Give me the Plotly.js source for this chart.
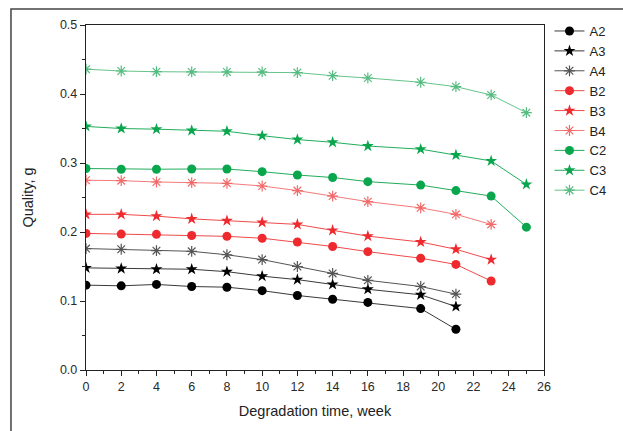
<!DOCTYPE html>
<html>
<head>
<meta charset="utf-8">
<script src="https://cdn.plot.ly/plotly-3.0.1.min.js"></script>
<style>html,body{margin:0;padding:0;background:#fff;}#chart{width:623px;height:431px;}</style>
</head>
<body>
<div id="chart"></div>
<script>
const weeksA = [0, 2, 4, 6, 8, 10, 12, 14, 16, 19, 21];
const weeksB = [0, 2, 4, 6, 8, 10, 12, 14, 16, 19, 21, 23];
const weeksC = [0, 2, 4, 6, 8, 10, 12, 14, 16, 19, 21, 23, 25];

const A2 = [0.123, 0.122, 0.124, 0.121, 0.120, 0.115, 0.108, 0.1025, 0.098, 0.089, 0.059];
const A3 = [0.148, 0.147, 0.146, 0.146, 0.1425, 0.136, 0.131, 0.124, 0.117, 0.109, 0.092];
const A4 = [0.176, 0.175, 0.173, 0.172, 0.167, 0.160, 0.150, 0.140, 0.130, 0.121, 0.110];
const B2 = [0.198, 0.197, 0.1966, 0.195, 0.1937, 0.191, 0.1855, 0.179, 0.1715, 0.162, 0.153, 0.129];
const B3 = [0.2256, 0.2256, 0.223, 0.219, 0.2164, 0.214, 0.211, 0.2024, 0.194, 0.1855, 0.175, 0.160];
const B4 = [0.275, 0.2744, 0.2725, 0.2715, 0.2705, 0.2667, 0.260, 0.252, 0.244, 0.235, 0.2256, 0.211];
const C2 = [0.292, 0.291, 0.291, 0.2913, 0.2913, 0.2874, 0.2826, 0.279, 0.273, 0.268, 0.260, 0.252, 0.207];
const C3 = [0.353, 0.350, 0.349, 0.347, 0.346, 0.3396, 0.334, 0.330, 0.3246, 0.320, 0.3116, 0.303, 0.269];
const C4 = [0.436, 0.4333, 0.4323, 0.432, 0.432, 0.432, 0.431, 0.4265, 0.4232, 0.417, 0.4106, 0.3986, 0.373];

const seriesNames = ["A2", "A3", "A4", "B2", "B3", "B4", "C2", "C3", "C4"];
const xTickVals = [0, 2, 4, 6, 8, 10, 12, 14, 16, 18, 20, 22, 24, 26];
const yTickVals = [0.0, 0.1, 0.2, 0.3, 0.4, 0.5];
const yTickText = ["0.0", "0.1", "0.2", "0.3", "0.4", "0.5"];

function mk(name, x, y, lineColor, mColor, symbol, size) {
  const open = symbol === 'asterisk-open';
  return {
    type: 'scatter', mode: 'lines+markers', name: name, x: x, y: y,
    line: {color: lineColor, width: 1},
    marker: {
      symbol: symbol, size: size, color: mColor,
      line: {color: mColor, width: open ? 1.2 : 0}
    }
  };
}

const data = [
  mk(seriesNames[0], weeksA, A2, '#3a3a3a', '#000000', 'circle', 9),
  mk(seriesNames[1], weeksA, A3, '#3a3a3a', '#000000', 'star', 9),
  mk(seriesNames[2], weeksA, A4, '#555555', '#555555', 'asterisk-open', 9),
  mk(seriesNames[3], weeksB, B2, '#f04a4a', '#ee2a2e', 'circle', 9),
  mk(seriesNames[4], weeksB, B3, '#f04a4a', '#ee2a2e', 'star', 9),
  mk(seriesNames[5], weeksB, B4, '#f47a7a', '#f26a6a', 'asterisk-open', 9),
  mk(seriesNames[6], weeksC, C2, '#22ad5a', '#0aa64e', 'circle', 9),
  mk(seriesNames[7], weeksC, C3, '#22ad5a', '#0aa64e', 'star', 9),
  mk(seriesNames[8], weeksC, C4, '#66c48a', '#55bb80', 'asterisk-open', 9)
];

const ff = '"Liberation Sans", Arial, sans-serif';
const axFont = {family: ff, size: 12.5, color: '#2a2a2a'};

const layout = {
  width: 623, height: 431,
  margin: {l: 86, r: 73, t: 25, b: 61},
  paper_bgcolor: '#ffffff', plot_bgcolor: '#ffffff',
  font: {family: ff, color: '#222'},
  showlegend: true,
  legend: {
    x: 1.012, y: 1.026, xanchor: 'left', yanchor: 'top',
    font: {family: ff, size: 13, color: '#222'},
    bgcolor: 'rgba(0,0,0,0)', tracegroupgap: 0, itemwidth: 30
  },
  xaxis: {
    range: [0, 26], tickvals: xTickVals, ticktext: xTickVals.map(String),
    ticks: 'outside', ticklen: 5, tickwidth: 1, tickcolor: '#222',
    minor: {dtick: 1, tick0: 0, ticks: 'outside', ticklen: 3, tickcolor: '#222'},
    showline: true, linecolor: '#222', linewidth: 1.2, mirror: true,
    showgrid: false, zeroline: false, tickfont: axFont,
    title: {text: 'Degradation time, week', font: {family: ff, size: 14.5, color: '#222'}, standoff: 12}
  },
  yaxis: {
    range: [0, 0.5], tickvals: yTickVals, ticktext: yTickText,
    ticks: 'outside', ticklen: 5, tickwidth: 1, tickcolor: '#222',
    minor: {dtick: 0.05, tick0: 0, ticks: 'outside', ticklen: 3, tickcolor: '#222'},
    showline: true, linecolor: '#222', linewidth: 1.2, mirror: true,
    showgrid: false, zeroline: false, tickfont: axFont,
    title: {text: 'Quality, g', font: {family: ff, size: 14.5, color: '#222'}, standoff: 22}
  },
  shapes: [{
    type: 'rect', xref: 'paper', yref: 'paper',
    x0: -0.1638, x1: 2, y0: -2, y1: 1.0464,
    line: {color: '#444', width: 1.5}, fillcolor: 'rgba(0,0,0,0)', layer: 'below'
  }]
};

Plotly.newPlot('chart', data, layout, {displayModeBar: false, staticPlot: true});
</script>
</body>
</html>
